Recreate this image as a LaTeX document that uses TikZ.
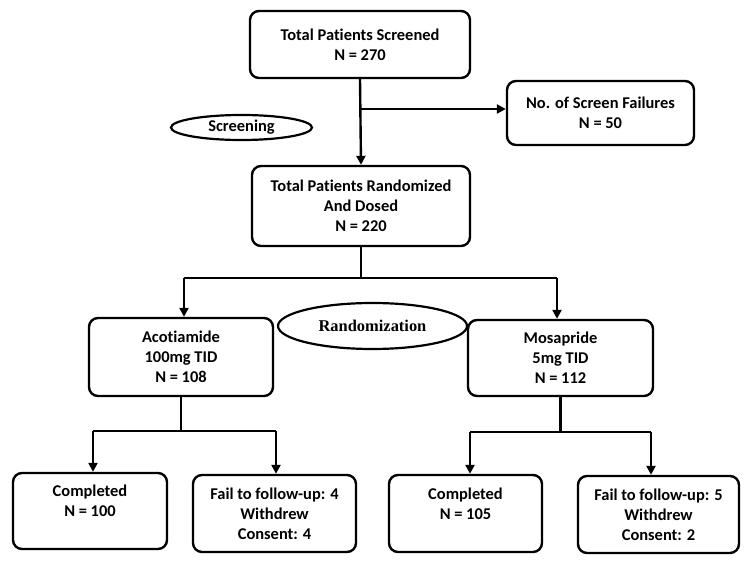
\documentclass[tikz,border=0pt]{standalone}
\usepackage{fontspec}
\setmainfont{Carlito}[Ligatures=NoCommon]
\newfontfamily\tms{Liberation Serif}
\usetikzlibrary{arrows.meta,shapes.geometric}
\begin{document}
\begin{tikzpicture}[x=1bp,y=-1bp,
  every node/.style={font=\fontsize{16.5}{20}\selectfont\bfseries, align=center},
  box/.style={draw, line width=2.4bp, rounded corners=9bp, inner sep=0pt},
  oval/.style={draw, ellipse, line width=2.2bp, inner sep=0pt},
  conn/.style={line width=2.4bp},
  arr/.style={line width=2.4bp, -{Triangle[width=9bp,length=9bp]}}]
\useasboundingbox (0,0) rectangle (750,563);
\fill[white] (0,0) rectangle (750,563);
% boxes
\node[box, minimum width=220bp, minimum height=67bp] (b1) at (360,44.5) {Total Patients Screened\\N = 270};
\node[box, minimum width=187bp, minimum height=64bp] (sf) at (600.5,113) {No. of Screen Failures\\N = 50};
\node[box, minimum width=218bp, minimum height=80bp] (b2) at (361,206) {Total Patients Randomized\\And Dosed\\N = 220};
\node[box, minimum width=184bp, minimum height=78bp] (acot) at (181,357) {Acotiamide\\100mg TID\\N = 108};
\node[box, minimum width=185bp, minimum height=76bp] (mos) at (560.5,358) {Mosapride\\5mg TID\\N = 112};
\node[box, minimum width=154bp, minimum height=76bp] (c1) at (90,511) {Completed\\N = 100\\\mbox{}};
\node[box, minimum width=163bp, minimum height=77bp] (f1) at (274.5,513.5) {Fail to follow-up: 4\\Withdrew\\Consent: 4};
\node[box, minimum width=153bp, minimum height=77bp] (c2) at (465.5,513.5) {Completed\\N = 105\\\mbox{}};
\node[box, minimum width=161bp, minimum height=77bp] (f2) at (658.5,514.5) {Fail to follow-up: 5\\Withdrew\\Consent: 2};
% ovals
\node[oval, minimum width=141bp, minimum height=25bp] (scr) at (241.5,127.5) {Screening};
\node[oval, minimum width=189bp, minimum height=46bp, font=\fontsize{16.5}{20}\selectfont\tms\bfseries] (rand) at (372.5,326) {Randomization};
% junction coordinates
\coordinate (j1) at (360,109);
\coordinate (ra) at (184,278);
\coordinate (rb) at (557,278);
\coordinate (la) at (93,431);
\coordinate (lb) at (276,431);
\coordinate (ma) at (470,432);
\coordinate (mb) at (651,432);
% connectors
\draw[arr] (b1.south) -- (b2.north);
\draw[arr] (j1) -- (j1 -| sf.west);
\draw[conn] (b2.south) -- (b2.south |- ra);
\draw[conn] (ra) -- (rb);
\draw[arr] (ra) -- (ra |- acot.north);
\draw[arr] (rb) -- (rb |- mos.north);
\draw[conn] (acot.south) -- (acot.south |- la);
\draw[conn] (la) -- (lb);
\draw[arr] (la) -- (la |- c1.north);
\draw[arr] (lb) -- (lb |- f1.north);
\draw[conn] (mos.south) -- (mos.south |- ma);
\draw[conn] (ma) -- (mb);
\draw[arr] (ma) -- (ma |- c2.north);
\draw[arr] (mb) -- (mb |- f2.north);
\end{tikzpicture}
\end{document}
